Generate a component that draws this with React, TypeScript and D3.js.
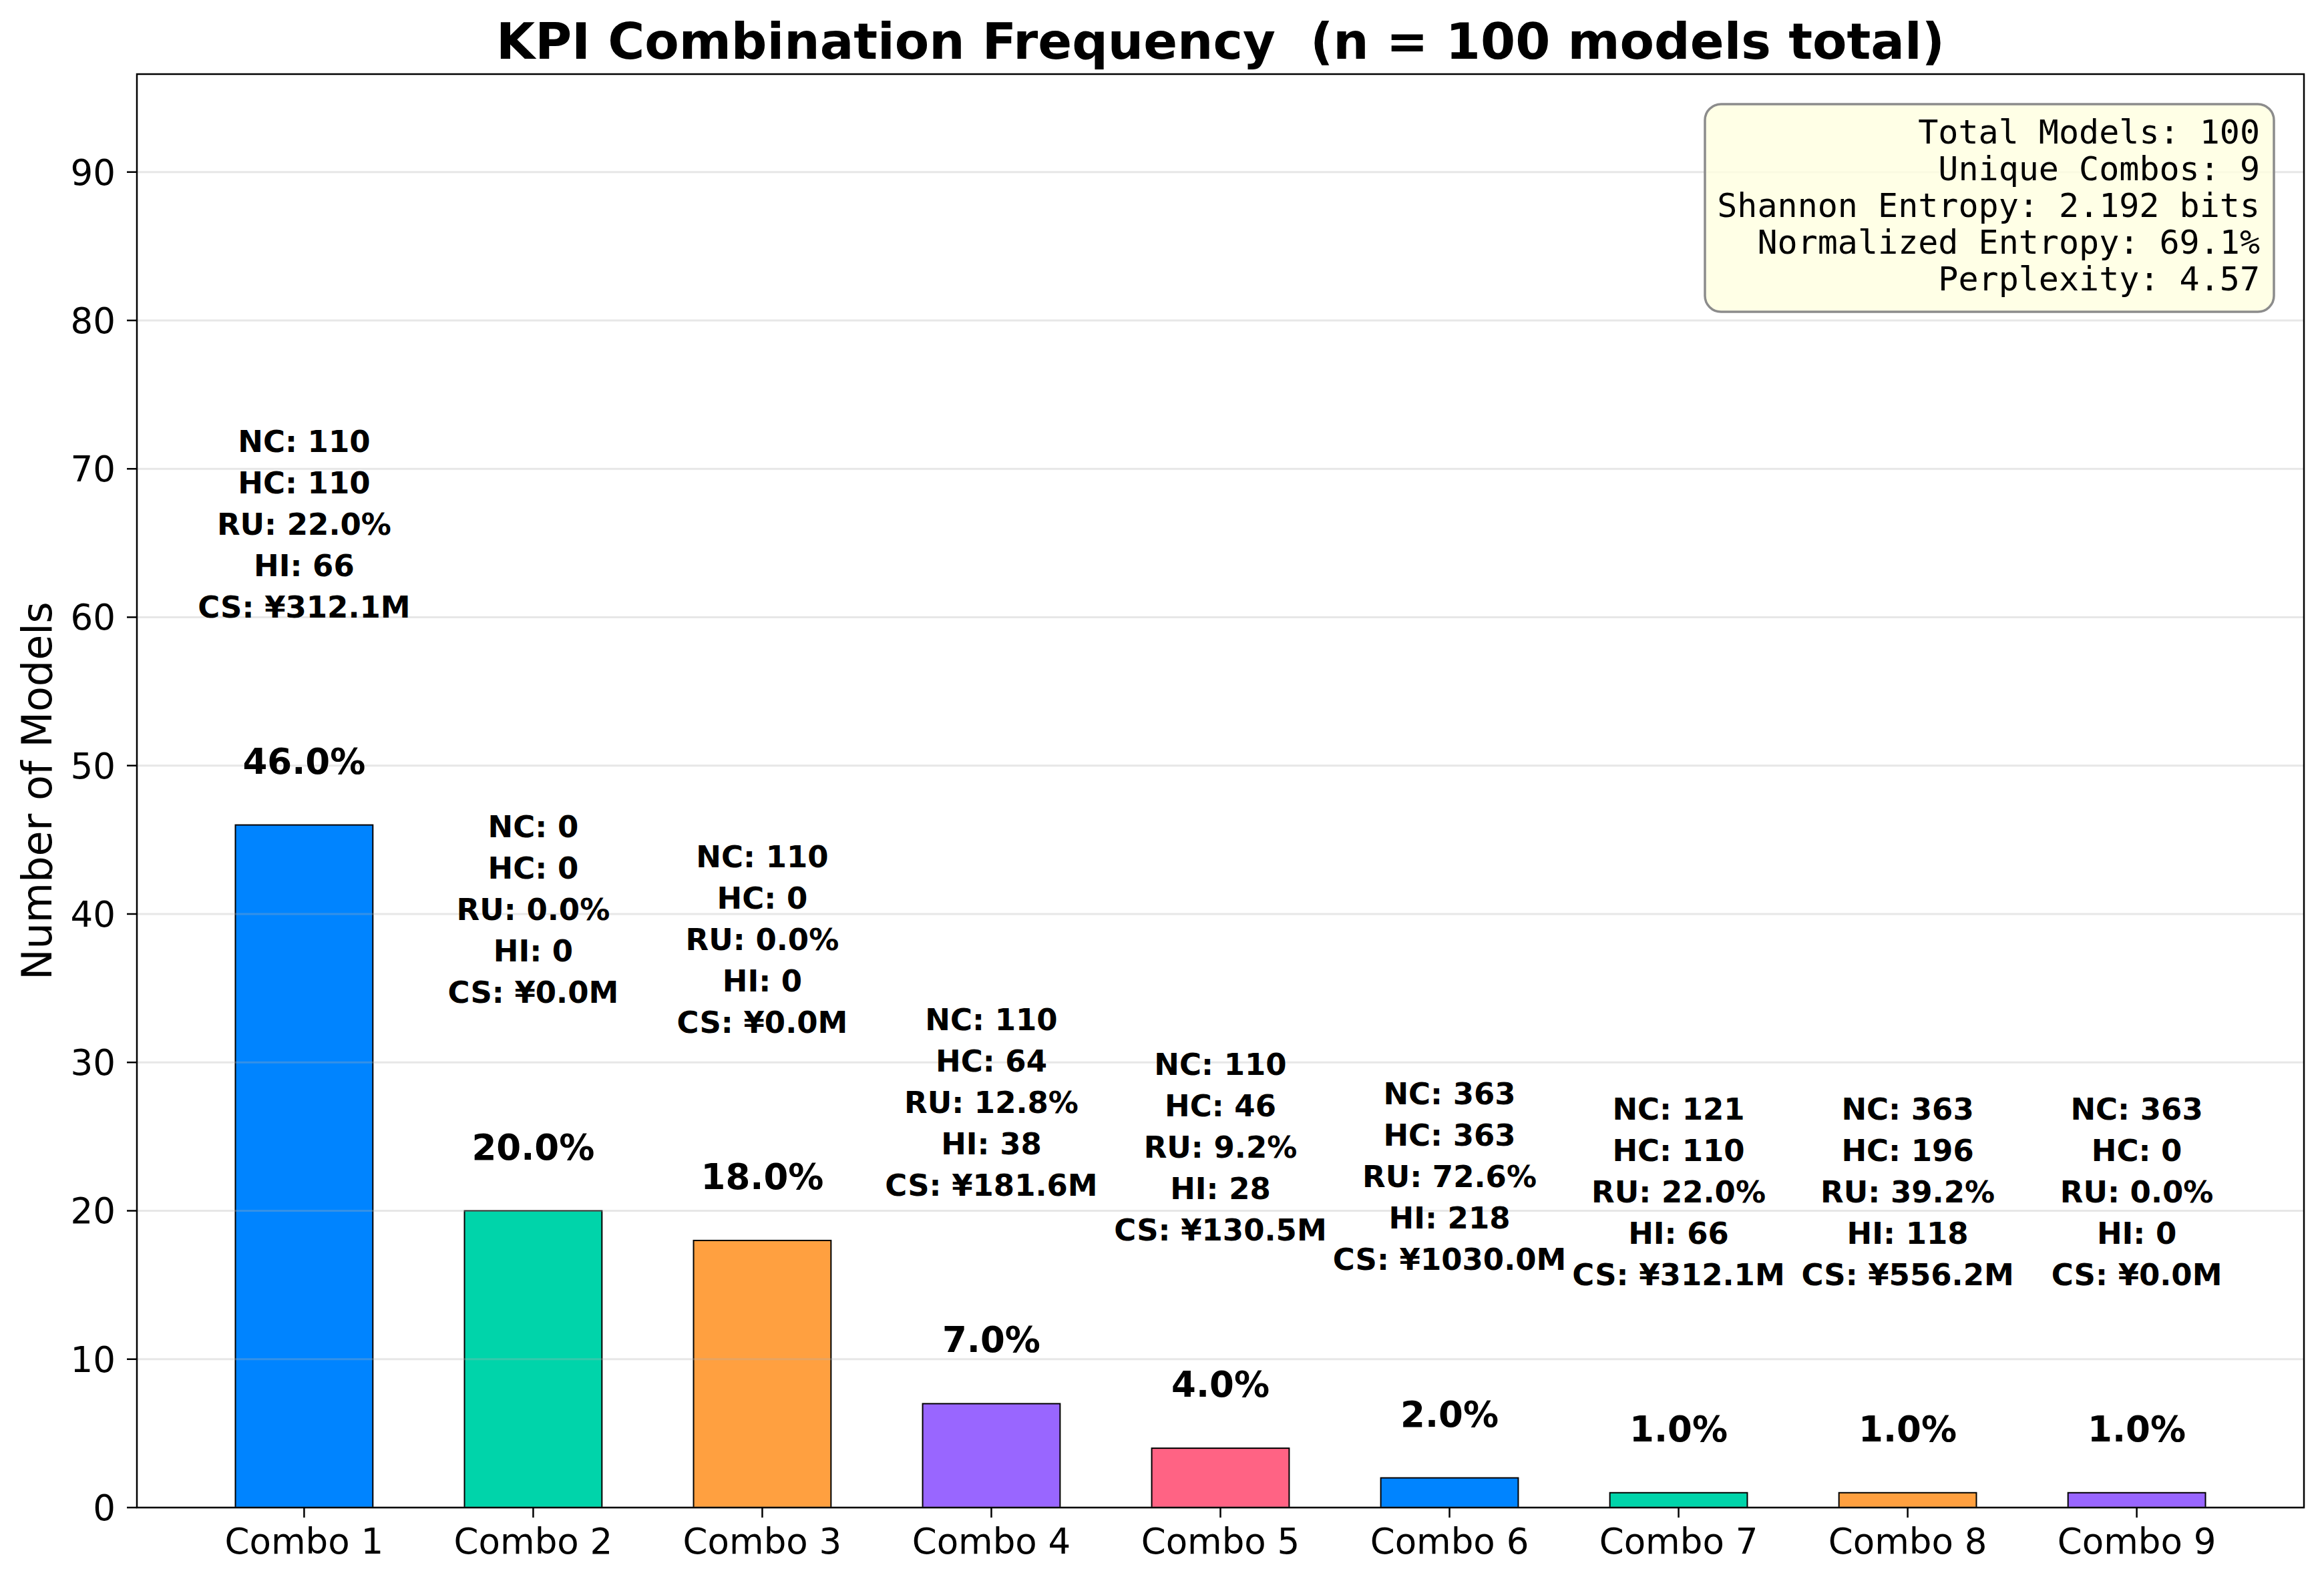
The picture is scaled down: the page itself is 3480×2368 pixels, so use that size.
import React, { useEffect } from "react";
import * as d3 from "d3";

// ---------- data ----------
const categories = ["Combo 1", "Combo 2", "Combo 3", "Combo 4", "Combo 5", "Combo 6", "Combo 7", "Combo 8", "Combo 9"];
const counts = [46, 20, 18, 7, 4, 2, 1, 1, 1];
const ncValues = [110, 0, 110, 110, 110, 363, 121, 363, 363];
const hcValues = [110, 0, 0, 64, 46, 363, 110, 196, 0];
const ruValues = [22.0, 0.0, 0.0, 12.8, 9.2, 72.6, 22.0, 39.2, 0.0];
const hiValues = [66, 0, 0, 38, 28, 218, 66, 118, 0];
const csValues = [312.1, 0.0, 0.0, 181.6, 130.5, 1030.0, 312.1, 556.2, 0.0];
const palette = ["#0084FF", "#00D4AA", "#FFA040", "#9966FF", "#FF6384"];
const yTicks = [0, 10, 20, 30, 40, 50, 60, 70, 80, 90];
const totalModels = 100;
const statsLines = [
  "Total Models: 100",
  "Unique Combos: 9",
  "Shannon Entropy: 2.192 bits",
  "Normalized Entropy: 69.1%",
  "Perplexity: 4.57",
];
const titleText = "KPI Combination Frequency  (n = 100 models total)";
const yLabel = "Number of Models";

// ---------- layout ----------
const W = 3480;
const H = 2368;
const L = 205;
const R = 3450;
const T = 111;
const B = 2258;
const YMAX = 96.6;
const BAR_W = 0.6;
const FONT = "'DejaVu Sans', sans-serif";
const MONO = "'DejaVu Sans Mono', monospace";

export default function App() {
  useEffect(() => {
    document.body.style.margin = "0";
  }, []);

  const x = d3.scaleLinear().domain([-0.73, categories.length - 1 + 0.73]).range([L, R]);
  const y = d3.scaleLinear().domain([0, YMAX]).range([B, T]);
  const bw = x(BAR_W) - x(0);

  const annLines = (i: number) => [
    `NC: ${ncValues[i]}`,
    `HC: ${hcValues[i]}`,
    `RU: ${ruValues[i].toFixed(1)}%`,
    `HI: ${hiValues[i]}`,
    `CS: ¥${csValues[i].toFixed(1)}M`,
  ];

  const annFont = 45;
  const annSpacing = 62;
  const pctFont = 53;

  return (
    <svg width={W} height={H} viewBox={`0 0 ${W} ${H}`} style={{ display: "block", background: "#fff" }}>
      <rect x={0} y={0} width={W} height={H} fill="#fff" />
      {/* bars */}
      {counts.map((c, i) => (
        <rect
          key={`bar${i}`}
          x={x(i) - bw / 2}
          y={y(c)}
          width={bw}
          height={y(0) - y(c)}
          fill={palette[i % palette.length]}
          stroke="#000"
          strokeWidth={2}
        />
      ))}
      {/* grid lines (above bars, translucent) */}
      {yTicks.map((t) => (
        <line key={`g${t}`} x1={L} x2={R} y1={y(t)} y2={y(t)} stroke="#b0b0b0" strokeOpacity={0.3} strokeWidth={3} />
      ))}
      {/* percentage labels */}
      {counts.map((c, i) => (
        <text
          key={`pct${i}`}
          x={x(i)}
          y={y(c + 2.9) - 0.236 * pctFont}
          textAnchor="middle"
          fontFamily={FONT}
          fontWeight="bold"
          fontSize={pctFont}
          fill="#000"
        >
          {`${((c / totalModels) * 100).toFixed(1)}%`}
        </text>
      ))}
      {/* KPI annotations */}
      {counts.map((c, i) => {
        const lines = annLines(i);
        const lastBase = y(c + 13.5) - 0.245 * annFont;
        return (
          <text key={`ann${i}`} textAnchor="middle" fontFamily={FONT} fontWeight="bold" fontSize={annFont} fill="#000">
            {lines.map((ln, k) => (
              <tspan key={k} x={x(i)} y={lastBase - (lines.length - 1 - k) * annSpacing}>
                {ln}
              </tspan>
            ))}
          </text>
        );
      })}
      {/* stats box */}
      <rect x={2553} y={156} width={852} height={311} rx={24} ry={24} fill="#ffffe0" fillOpacity={0.8} stroke="#8c8c8c" strokeWidth={3.5} />
      <text textAnchor="end" fontFamily={MONO} fontSize={50} fill="#000">
        {statsLines.map((s, k) => (
          <tspan key={k} x={3384} y={215 + k * 55}>
            {s}
          </tspan>
        ))}
      </text>
      {/* spines */}
      <rect x={L} y={T} width={R - L} height={B - T} fill="none" stroke="#000" strokeWidth={2.5} />
      {/* y ticks */}
      {yTicks.map((t) => (
        <g key={`yt${t}`}>
          <line x1={L - 15} x2={L} y1={y(t)} y2={y(t)} stroke="#000" strokeWidth={2.5} />
          <text x={173} y={y(t) + 19} textAnchor="end" fontFamily={FONT} fontSize={53} fill="#000">
            {t}
          </text>
        </g>
      ))}
      {/* x ticks */}
      {categories.map((cat, i) => (
        <g key={`xt${i}`}>
          <line x1={x(i)} x2={x(i)} y1={B} y2={B + 15} stroke="#000" strokeWidth={2.5} />
          <text x={x(i)} y={2327} textAnchor="middle" fontFamily={FONT} fontSize={53} fill="#000">
            {cat}
          </text>
        </g>
      ))}
      {/* y label */}
      <text
        transform={`translate(77, ${(T + B) / 2}) rotate(-90)`}
        textAnchor="middle"
        fontFamily={FONT}
        fontSize={62}
        fill="#000"
      >
        {yLabel}
      </text>
      {/* title */}
      <text
        x={(L + R) / 2}
        y={88}
        textAnchor="middle"
        fontFamily={FONT}
        fontWeight="bold"
        fontSize={75}
        fill="#000"
        xmlSpace="preserve"
        style={{ whiteSpace: "pre" }}
      >
        {titleText}
      </text>
    </svg>
  );
}
